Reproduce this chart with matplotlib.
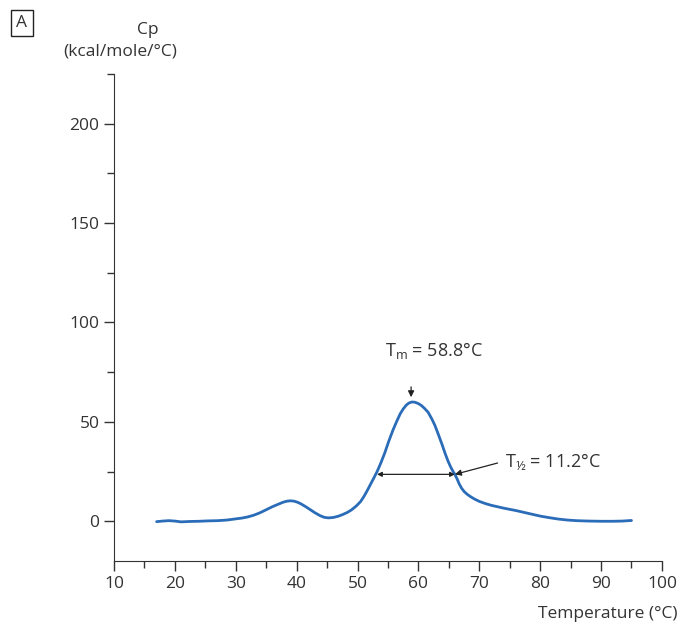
import matplotlib
matplotlib.use("Agg")
import matplotlib.pyplot as plt
from matplotlib.ticker import MultipleLocator

# DSC thermogram
temperature = [17, 18, 19, 20, 21, 22.5, 24, 25.5, 27, 28.5, 30, 31, 32, 33,
               34, 35, 36, 37, 37.8, 38.4, 39.0, 39.6, 40.2, 40.8, 41.5, 42.2,
               43, 43.8, 44.5, 45.2, 46, 46.8, 47.5, 48.3, 49, 49.8, 50.5, 51,
               51.5, 52, 52.6, 53.2, 53.8, 54.5, 55.1, 55.8, 56.4, 57, 57.5,
               58, 58.4, 58.9, 59.4, 60, 60.5, 61, 61.6, 62.2, 62.7, 63.3,
               63.9, 64.4, 64.9, 65.3, 65.7, 66, 66.4, 66.7, 67.1, 67.5, 68,
               68.5, 69.2, 70, 71, 72, 73, 74, 75, 76, 77, 78, 79, 80, 81.5,
               83, 84.5, 86, 88, 90, 92, 93.5, 95]
cp = [-0.2, 0.1, 0.3, 0.1, -0.3, -0.1, 0, 0.2, 0.3, 0.6, 1.2, 1.6, 2.2, 3.1,
      4.3, 5.8, 7.3, 8.6, 9.6, 10.1, 10.3, 10.1, 9.5, 8.6, 7.3, 5.9,
      4.3, 2.9, 2.0, 1.7, 1.9, 2.5, 3.3, 4.4, 5.7, 7.7, 9.9, 12.2,
      14.9, 17.8, 21.3, 24.9, 29.1, 34.6, 40.0, 45.7, 50.0, 54.0, 56.5,
      58.4, 59.4, 60.0, 59.9, 59.2, 58.2, 56.8, 54.8, 51.5, 48.3, 43.5,
      38.5, 34.0, 30.0, 27.3, 25.0, 23.6, 21.0, 18.8, 16.6, 15.0, 13.6,
      12.5, 11.2, 10.0, 8.9, 8.0, 7.3, 6.6, 6.0, 5.4, 4.7, 4.0, 3.3, 2.6, 1.8,
      1.1, 0.6, 0.3, 0.1, 0.0, 0.0, 0.1, 0.4]

tm = 58.8
tm_label = r"$\mathregular{T_m}$ = 58.8°C"
half_left, half_right, half_y = 53.2, 66.0, 23.6
half_label = r"$\mathregular{T_{½}}$ = 11.2°C"

txt = "#333333"
plt.rcParams['font.family'] = ['Open Sans', 'DejaVu Sans']
plt.rcParams['font.size'] = 12.5

fig = plt.figure(figsize=(6.81, 6.26), dpi=100)
ax = fig.add_axes([0.1674, 0.1038, 0.8046, 0.778])

ax.plot(temperature, cp, color="#2b6cb8", lw=2.0, solid_capstyle="round",
        solid_joinstyle="round")

ax.set_xlim(10, 100)
ax.set_ylim(-20, 225)
ax.xaxis.set_major_locator(MultipleLocator(10))
ax.xaxis.set_minor_locator(MultipleLocator(5))
ax.yaxis.set_major_locator(MultipleLocator(50))
ax.yaxis.set_minor_locator(MultipleLocator(25))
ax.tick_params(which="major", length=7, width=1, color=txt, labelcolor=txt, labelsize=12.5)
ax.tick_params(which="minor", length=5, width=1, color=txt)
for s in ["top", "right"]:
    ax.spines[s].set_visible(False)
for s in ["left", "bottom"]:
    ax.spines[s].set_color(txt)

# Tm arrow
ax.annotate("", xy=(tm, 61), xytext=(tm, 69),
            arrowprops=dict(arrowstyle="-|>", color="#222222", lw=0.9, mutation_scale=9))
ax.text(62.5, 86, tm_label, ha="center", va="center", color=txt, fontsize=13)

# half width
ax.annotate("", xy=(half_left, half_y), xytext=(half_right, half_y),
            arrowprops=dict(arrowstyle="<|-|>", color="#222222", lw=0.9, mutation_scale=7,
                            shrinkA=0, shrinkB=0))
ax.annotate("", xy=(half_right, half_y), xytext=(73.0, 29.3),
            arrowprops=dict(arrowstyle="-|>", color="#222222", lw=0.9, mutation_scale=9,
                            shrinkA=0, shrinkB=0))
ax.text(74.3, 30, half_label, ha="left", va="center", color=txt, fontsize=13)

fig.text(148 / 681, 1 - 30 / 626, "Cp", ha="center", va="center", color=txt)
fig.text(120 / 681, 1 - 52 / 626, "(kcal/mole/°C)", ha="center", va="center", color=txt)
fig.text(22 / 681, 1 - 23 / 626, "A", ha="center", va="center", color=txt,
         bbox=dict(boxstyle="square,pad=0.3", fc="white", ec="#222222", lw=1))
fig.text(678 / 681, 1 - 614 / 626, "Temperature (°C)", ha="right", va="center", color=txt)

fig.savefig("out.png", dpi=100)
